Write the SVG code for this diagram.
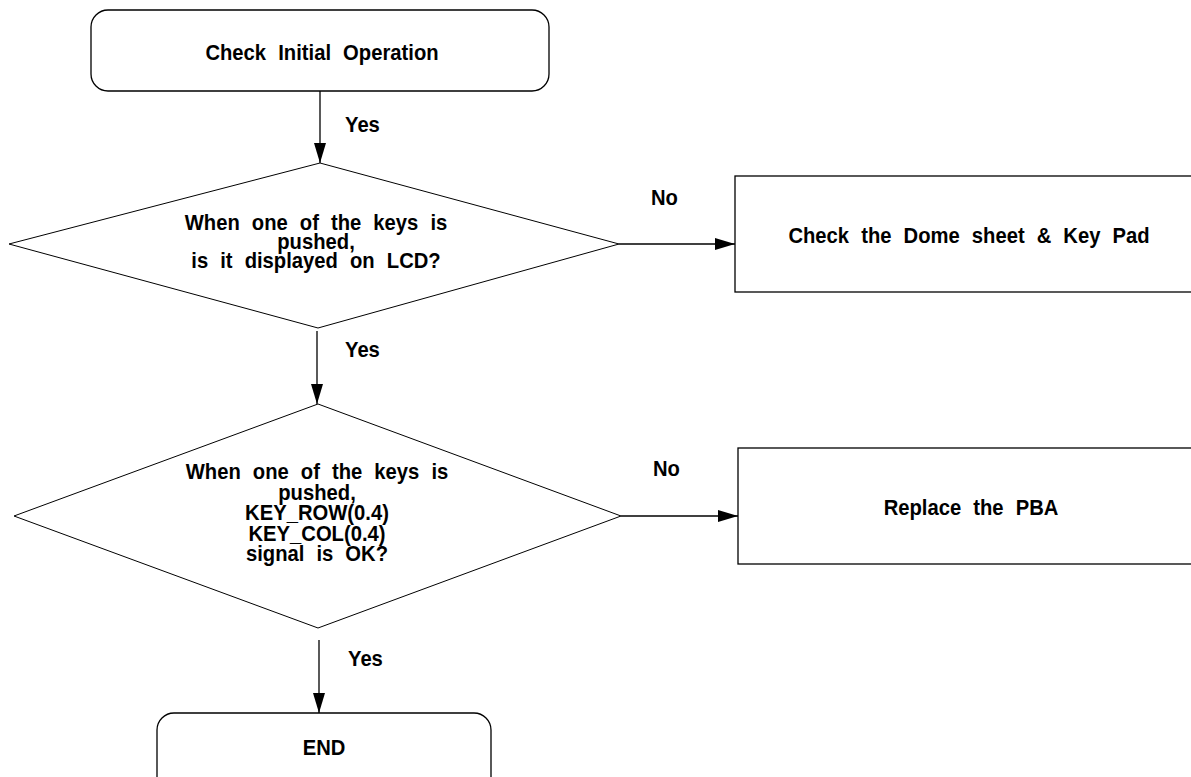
<svg xmlns="http://www.w3.org/2000/svg" width="1191" height="777" viewBox="0 0 1191 777">
<style>
.t{font-family:"Liberation Sans",Arial,sans-serif;font-weight:bold;font-size:22px;fill:#000;text-anchor:middle;word-spacing:7px}
.l{font-family:"Liberation Sans",Arial,sans-serif;font-weight:bold;font-size:22px;fill:#000}
.box{fill:#fff;stroke:#000;stroke-width:1.3}
.dia{fill:#fff;stroke:#000;stroke-width:1}
.c{fill:none;stroke:#000;stroke-width:1.3}
</style>
<defs>
<marker id="ah" markerUnits="userSpaceOnUse" markerWidth="22" markerHeight="14" refX="20" refY="6" orient="auto">
<path d="M0,0 L20,6 L0,12 Z" fill="#000"/>
</marker>
</defs>
<rect width="1191" height="777" fill="#fff"/>
<g id="start">
<rect class="box" x="91" y="10" width="458" height="81" rx="17" ry="17"/>
<text class="t" transform="translate(322,60) scale(0.92,1)">Check Initial Operation</text>
</g>
<g id="decision1">
<polygon class="dia" points="320,163 619,244 318,328 9,244"/>
<text class="t" transform="translate(316,230) scale(0.92,1)">When one of the keys is</text>
<text class="t" transform="translate(316,249) scale(0.92,1)">pushed,</text>
<text class="t" transform="translate(316,268) scale(0.92,1)">is it displayed on LCD?</text>
</g>
<g id="dome">
<rect class="box" x="735" y="176" width="470" height="116"/>
<text class="t" transform="translate(969,243) scale(0.92,1)">Check the Dome sheet &amp; Key Pad</text>
</g>
<g id="decision2">
<polygon class="dia" points="318,404 621,516 318,628 14,516"/>
<text class="t" transform="translate(317,479) scale(0.92,1)">When one of the keys is</text>
<text class="t" transform="translate(317,499.5) scale(0.92,1)">pushed,</text>
<text class="t" transform="translate(317,520) scale(0.92,1)">KEY_ROW(0.4)</text>
<text class="t" transform="translate(317,540.5) scale(0.92,1)">KEY_COL(0.4)</text>
<text class="t" transform="translate(317,561) scale(0.92,1)">signal is OK?</text>
</g>
<g id="pba">
<rect class="box" x="738" y="448" width="470" height="116"/>
<text class="t" transform="translate(971,515) scale(0.92,1)">Replace the PBA</text>
</g>
<g id="end">
<rect class="box" x="157" y="713" width="334" height="90" rx="17" ry="17"/>
<text class="t" transform="translate(324,755) scale(0.92,1)">END</text>
</g>
<g id="connectors">
<line class="c" x1="320" y1="91" x2="320" y2="163" marker-end="url(#ah)"/>
<line class="c" x1="619" y1="244" x2="735" y2="244" marker-end="url(#ah)"/>
<line class="c" x1="317" y1="331" x2="317" y2="404" marker-end="url(#ah)"/>
<line class="c" x1="621" y1="516" x2="738" y2="516" marker-end="url(#ah)"/>
<line class="c" x1="319" y1="640" x2="319" y2="713" marker-end="url(#ah)"/>
<text class="l" transform="translate(345,132) scale(0.92,1)">Yes</text>
<text class="l" transform="translate(651,205) scale(0.92,1)">No</text>
<text class="l" transform="translate(345,357) scale(0.92,1)">Yes</text>
<text class="l" transform="translate(653,476) scale(0.92,1)">No</text>
<text class="l" transform="translate(348,666) scale(0.92,1)">Yes</text>
</g>
</svg>
